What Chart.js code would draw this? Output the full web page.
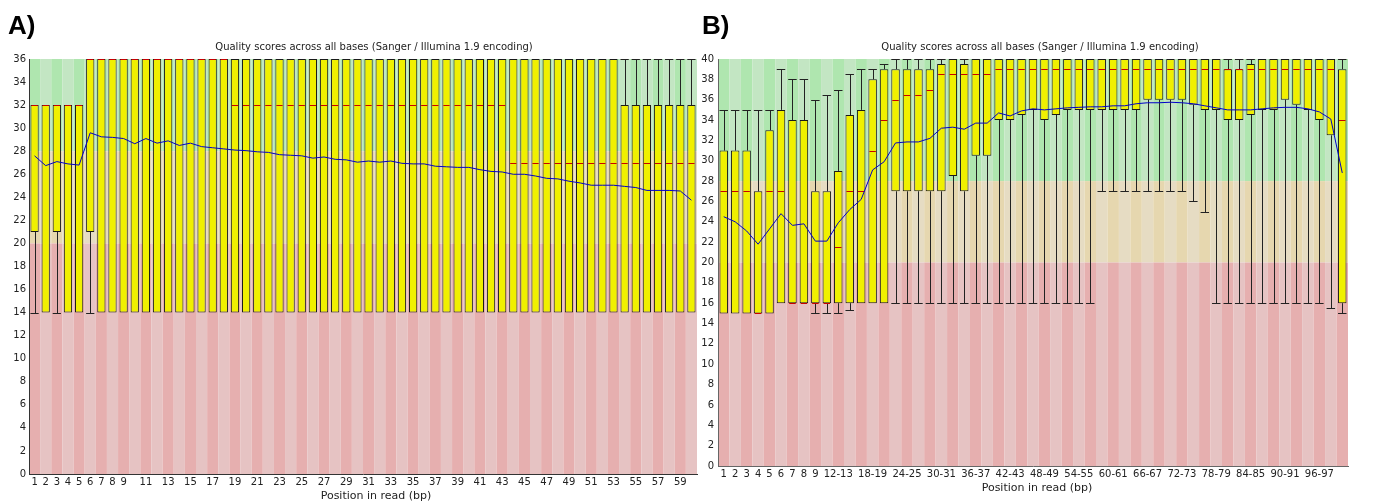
<!DOCTYPE html>
<html>
<head>
<meta charset="utf-8">
<title>Per base sequence quality</title>
<script src="https://cdn.jsdelivr.net/npm/chart.js@4.4.1/dist/chart.umd.min.js"></script>
<style>
  html, body { margin: 0; padding: 0; background: #fff; overflow: hidden; }
  body { width: 1373px; height: 504px; position: relative; }
  .panel { position: absolute; top: 0; height: 504px; }
  .tag {
    position: absolute; top: 12px;
    font: bold 26px/26px "Liberation Sans", Arial, sans-serif; color: #000;
  }
  .caption {
    position: absolute; transform: translateX(-50%); white-space: nowrap;
    font-family: "DejaVu Sans", sans-serif; color: #222;
  }
  .caption.title { font-size: 10px; line-height: 12px; top: 41px; }
  .caption.axis { font-size: 11px; line-height: 12px; }
</style>
</head>
<body>
<div class="panel" style="left:0;width:698px"><canvas id="chartA"></canvas></div>
<div class="panel" style="left:698px;width:675px"><canvas id="chartB"></canvas></div>
<div class="tag" style="left:8px">A)</div>
<div class="tag" style="left:702px">B)</div>
<div class="caption title" style="left:374px">Quality scores across all bases (Sanger / Illumina 1.9 encoding)</div>
<div class="caption title" style="left:1040px">Quality scores across all bases (Sanger / Illumina 1.9 encoding)</div>
<div class="caption axis" style="left:376px;top:490px">Position in read (bp)</div>
<div class="caption axis" style="left:1037px;top:482px">Position in read (bp)</div>

<script>
// ---- Sample A: 60 bp reads, one box per base ----
const positionsA = ['1','2','3','4','5','6','7','8','9','10','11','12','13','14','15','16','17','18','19','20',
  '21','22','23','24','25','26','27','28','29','30','31','32','33','34','35','36','37','38','39','40',
  '41','42','43','44','45','46','47','48','49','50','51','52','53','54','55','56','57','58','59','60'];
const tickLabelsA = ['1','2','3','4','5','6','7','8','9','','11','','13','','15','','17','','19','',
  '21','','23','','25','','27','','29','','31','','33','','35','','37','','39','',
  '41','','43','','45','','47','','49','','51','','53','','55','','57','','59',''];
const lowA = [14,14,14,14,14,14,14,14,14,14,14,14,14,14,14,14,14,14,14,14,
  14,14,14,14,14,14,14,14,14,14,14,14,14,14,14,14,14,14,14,14,
  14,14,14,14,14,14,14,14,14,14,14,14,14,14,14,14,14,14,14,14];
const q1A = [21,14,21,14,14,21,14,14,14,14,14,14,14,14,14,14,14,14,14,14,
  14,14,14,14,14,14,14,14,14,14,14,14,14,14,14,14,14,14,14,14,
  14,14,14,14,14,14,14,14,14,14,14,14,14,14,14,14,14,14,14,14];
const medianA = [32,32,32,32,32,36,36,36,36,36,36,36,36,36,36,36,36,36,32,32,
  32,32,32,32,32,32,32,32,32,32,32,32,32,32,32,32,32,32,32,32,
  32,32,32,27,27,27,27,27,27,27,27,27,27,27,27,27,27,27,27,27];
const q3A = [32,32,32,32,32,36,36,36,36,36,36,36,36,36,36,36,36,36,36,36,
  36,36,36,36,36,36,36,36,36,36,36,36,36,36,36,36,36,36,36,36,
  36,36,36,36,36,36,36,36,36,36,36,36,36,32,32,32,32,32,32,32];
const highA = [32,32,32,32,32,36,36,36,36,36,36,36,36,36,36,36,36,36,36,36,
  36,36,36,36,36,36,36,36,36,36,36,36,36,36,36,36,36,36,36,36,
  36,36,36,36,36,36,36,36,36,36,36,36,36,36,36,36,36,36,36,36];
const meanA = [27.6,26.75,27.1,26.9,26.8,29.6,29.25,29.2,29.1,28.65,29.1,28.7,28.9,28.5,28.7,28.4,28.3,28.2,28.1,28.05,
  27.95,27.9,27.7,27.65,27.6,27.4,27.5,27.3,27.25,27.05,27.15,27.05,27.15,26.95,26.9,26.9,26.7,26.65,26.6,26.6,
  26.4,26.25,26.2,26.0,26.0,25.85,25.65,25.6,25.4,25.25,25.05,25.05,25.05,24.95,24.85,24.6,24.6,24.6,24.55,23.75];

// ---- Sample B: 101 bp reads, bases grouped in pairs from 10 ----
const positionsB = ['1','2','3','4','5','6','7','8','9','10-11','12-13','14-15','16-17','18-19','20-21',
  '22-23','24-25','26-27','28-29','30-31','32-33','34-35','36-37','38-39','40-41','42-43','44-45','46-47',
  '48-49','50-51','52-53','54-55','56-57','58-59','60-61','62-63','64-65','66-67','68-69','70-71','72-73',
  '74-75','76-77','78-79','80-81','82-83','84-85','86-87','88-89','90-91','92-93','94-95','96-97','98-99','100-101'];
const tickLabelsB = ['1','2','3','4','5','6','7','8','9','','12-13','','','18-19','',
  '','24-25','','','30-31','','','36-37','','','42-43','','',
  '48-49','','','54-55','','','60-61','','','66-67','','','72-73',
  '','','78-79','','','84-85','','','90-91','','','96-97','',''];
const lowB = [15,15,15,15,15,16,16,16,15,15,15,15.3,16,16,16,16,16,16,16,16,16,16,16,16,16,16,16,16,
  16,16,16,16,16,27,27,27,27,27,27,27,27,26,25,16,16,16,16,16,16,16,16,16,16,15.5,15];
const q1B = [15,15,15,15,15,16,16,16,16,16,16,16,16,16,16,27,27,27,27,27,28.5,27,30.5,30.5,34,34,34.5,35,
  34,34.5,35,35,35,35,35,35,35,36,36,36,36,35.5,35,35,34,34,34.5,35,35,36,35.5,35,34,32.5,16];
const medianB = [27,27,27,15,27,27,16,16,16,16,21.5,27,27,31,34,36,36.5,36.5,37,38.5,38.5,38.5,38.5,38.5,39,39,39,39,
  39,39,39,39,39,39,39,39,39,39,39,39,39,39,39,39,39,39,39,39,39,39,39,39,39,39,34];
const q3B = [31,31,31,27,33,35,34,34,27,27,29,34.5,35,38,39,39,39,39,39,39.5,40,39.5,40,40,40,40,40,40,
  40,40,40,40,40,40,40,40,40,40,40,40,40,40,40,40,39,39,39.5,40,40,40,40,40,40,40,39];
const highB = [35,35,35,35,35,39,38,38,36,36.5,37,38.5,39,39,39.5,40,40,40,40,40,40,40,40,40,40,40,40,40,
  40,40,40,40,40,40,40,40,40,40,40,40,40,40,40,40,40,40,40,40,40,40,40,40,40,40,40];
const meanB = [24.5,24.0,23.1,21.8,23.3,24.8,23.65,23.8,22.1,22.1,23.9,25.2,26.2,29.1,29.9,31.75,31.85,31.85,32.2,33.2,
  33.3,33.1,33.7,33.7,34.7,34.4,34.9,35.1,35.0,35.1,35.2,35.25,35.3,35.3,35.4,35.4,35.6,35.7,35.7,35.75,
  35.7,35.6,35.4,35.2,35.0,35.0,35.0,35.1,35.2,35.25,35.25,35.1,34.8,34.1,28.8];

// quality bands: [from, to, colours for even / odd columns]
const qualityBands = [
  [28, 99, ['rgb(175,230,175)', 'rgb(195,230,195)']],
  [20, 28, ['rgb(230,215,175)', 'rgb(230,220,195)']],
  [0, 20, ['rgb(230,175,175)', 'rgb(230,195,195)']]
];

const FONT = 'DejaVu Sans';

// striped green / orange / red background behind the plot
const bandsPlugin = {
  id: 'bands',
  beforeDraw(chart) {
    const { ctx, chartArea: area, scales: { x, y } } = chart;
    const n = chart.data.labels.length;
    const step = area.width / n;
    ctx.save();
    for (let i = 0; i < n; i++) {
      const left = x.getPixelForValue(i) - step / 2;
      qualityBands.forEach(([lo, hi, colours]) => {
        const top = y.getPixelForValue(Math.min(hi, y.max));
        const bottom = y.getPixelForValue(Math.max(lo, y.min));
        ctx.fillStyle = colours[i % 2];
        ctx.fillRect(left, top, step, bottom - top);
      });
    }
    ctx.restore();
  }
};

// whiskers below the boxes, medians on top of them
const boxPlugin = {
  id: 'boxes',
  beforeDatasetsDraw(chart, args, opts) {
    const { ctx, scales: { y } } = chart;
    const meta = chart.getDatasetMeta(1);
    ctx.save();
    ctx.strokeStyle = '#222';
    ctx.lineWidth = 1;
    meta.data.forEach((bar, i) => {
      const cx = Math.round(bar.x) + 0.5;
      const half = bar.width / 2;
      const ends = [[opts.high[i], opts.q3[i]], [opts.low[i], opts.q1[i]]];
      ends.forEach(([tip, edge]) => {
        if (tip === edge) return;
        const ty = Math.round(y.getPixelForValue(tip)) + 0.5;
        const ey = y.getPixelForValue(edge);
        ctx.beginPath();
        ctx.moveTo(cx, ty);
        ctx.lineTo(cx, ey);
        ctx.moveTo(bar.x - half, ty);
        ctx.lineTo(bar.x + half, ty);
        ctx.stroke();
      });
    });
    ctx.restore();
  },
  afterDatasetDraw(chart, args, opts) {
    if (args.index !== 1) return;
    const { ctx, scales: { y } } = chart;
    ctx.save();
    ctx.strokeStyle = 'rgb(200,0,0)';
    ctx.lineWidth = 1;
    args.meta.data.forEach((bar, i) => {
      const my = Math.round(y.getPixelForValue(opts.median[i])) + 0.5;
      ctx.beginPath();
      ctx.moveTo(bar.x - bar.width / 2 + 1, my);
      ctx.lineTo(bar.x + bar.width / 2 - 1, my);
      ctx.stroke();
    });
    ctx.restore();
  }
};

function buildChart(canvasId, s) {
  return new Chart(document.getElementById(canvasId), {
    type: 'bar',
    data: {
      labels: s.positions,
      datasets: [{
        type: 'line',
        data: s.mean,
        borderColor: 'rgb(0,0,200)',
        borderWidth: 1,
        pointRadius: 0,
        tension: 0,
        fill: false,
        order: 0
      }, {
        type: 'bar',
        data: s.q1.map((v, i) => [v, s.q3[i]]),
        backgroundColor: 'rgb(240,240,0)',
        borderColor: '#1a1a1a',
        borderWidth: 1,
        borderSkipped: false,
        categoryPercentage: 1,
        barPercentage: 0.74,
        order: 1
      }]
    },
    options: {
      responsive: true,
      maintainAspectRatio: false,
      animation: false,
      events: [],
      layout: { padding: { left: 0, right: s.padRight, top: 59, bottom: 0 } },
      plugins: {
        legend: { display: false },
        tooltip: { enabled: false },
        title: { display: false },
        boxes: { low: s.low, q1: s.q1, median: s.median, q3: s.q3, high: s.high }
      },
      scales: {
        x: {
          type: 'category',
          offset: true,
          grid: { display: false, drawTicks: false },
          border: { display: true, color: s.axisColor, width: 1 },
          ticks: {
            autoSkip: false, maxRotation: 0, minRotation: 0, padding: 2,
            color: '#222', font: { family: FONT, size: 10 },
            callback: (v, i) => s.tickLabels[i]
          },
          afterFit(scale) { scale.height = s.xHeight; }
        },
        y: {
          min: 0,
          max: s.yMax,
          grid: { display: false, drawTicks: false },
          border: { display: true, color: s.axisColor, width: 1 },
          ticks: { stepSize: 2, padding: s.yPad, color: '#222', font: { family: FONT, size: 10 } },
          afterFit(scale) { scale.width = s.yWidth; }
        }
      }
    },
    plugins: [bandsPlugin, boxPlugin]
  });
}

buildChart('chartA', {
  positions: positionsA, tickLabels: tickLabelsA,
  low: lowA, q1: q1A, median: medianA, q3: q3A, high: highA, mean: meanA,
  yMax: 36, yWidth: 29, yPad: 3, xHeight: 30, padRight: 1, axisColor: '#333'
});

buildChart('chartB', {
  positions: positionsB, tickLabels: tickLabelsB,
  low: lowB, q1: q1B, median: medianB, q3: q3B, high: highB, mean: meanB,
  yMax: 40, yWidth: 20, yPad: 4, xHeight: 38, padRight: 25, axisColor: '#666'
});
</script>
</body>
</html>
